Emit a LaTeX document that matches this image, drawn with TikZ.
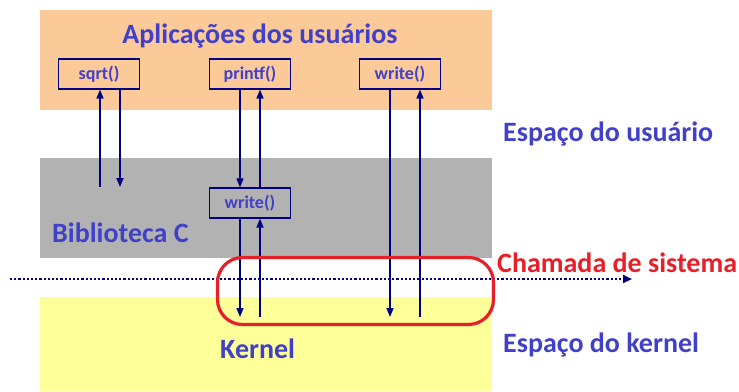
\documentclass[tikz,border=0pt]{standalone}
\usepackage{fontspec}
\setmainfont{Carlito}
\usetikzlibrary{arrows.meta}

\definecolor{laranja}{RGB}{252,201,152}
\definecolor{cinza}{RGB}{178,178,178}
\definecolor{amarelo}{RGB}{255,255,153}
\definecolor{marinho}{RGB}{0,0,128}
\definecolor{azultexto}{RGB}{64,64,200}
\definecolor{vermelho}{RGB}{232,30,40}

\tikzset{
	funcao/.style={draw=marinho, line width=1.2pt, fill=none, text=azultexto, font=\bfseries\fontsize{18}{20}\selectfont, minimum width=81pt, minimum height=30pt, inner sep=0pt},
	seta/.style={draw=marinho, line width=1.5pt, -{Triangle[width=7pt,length=9pt]}},
	rotulo/.style={text=azultexto, font=\bfseries\fontsize{28}{32}\selectfont, inner sep=0pt, anchor=base west}
}

\begin{document}
\begin{tikzpicture}[x=1pt,y=-1pt]
		\useasboundingbox (0,0) rectangle (739,391);
		% faixas
		\fill[laranja] (40,10) rectangle (492,110);
		\fill[cinza] (40,158) rectangle (492,258);
		\fill[amarelo] (40,297) rectangle (492,391);
		% funcoes
		\node[funcao] (sqrt) at (99,74) {sqrt()};
		\node[funcao] (printf) at (250,74) {printf()};
		\node[funcao] (write) at (400,74) {write()};
		\node[funcao] (writeC) at (250,203) {write()};
		% pontas soltas
		\coordinate (sqrtSobe) at (100,187);
		\coordinate (sqrtDesce) at (120,187);
		\coordinate (kDesceA) at (240,317);
		\coordinate (kSobeA) at (260,317);
		\coordinate (kDesceB) at (390,317);
		\coordinate (kSobeB) at (420,317);
		\coordinate (limiteE) at (10,279);
		\coordinate (limiteD) at (632,279);
		% setas
		\draw[seta] (sqrtSobe) -- (sqrtSobe |- sqrt.south);
		\draw[seta] (sqrtDesce |- sqrt.south) -- (sqrtDesce);
		\draw[seta] (kDesceA |- printf.south) -- (kDesceA |- writeC.north);
		\draw[seta] (kSobeA |- writeC.north) -- (kSobeA |- printf.south);
		\draw[seta] (kDesceA |- writeC.south) -- (kDesceA);
		\draw[seta] (kSobeA) -- (kSobeA |- writeC.south);
		\draw[seta] (kDesceB |- write.south) -- (kDesceB);
		\draw[seta] (kSobeB) -- (kSobeB |- write.south);
		% fronteira usuario/kernel
		\draw[draw=marinho, line width=2.2pt, dash pattern=on 2.2pt off 2pt, -{Triangle[width=8pt,length=9pt]}] (limiteE) -- (limiteD);
		\node[draw=vermelho, line width=3.2pt, rounded corners=25pt, minimum width=276pt, minimum height=67pt, inner sep=0pt] (chamada) at (355.5,291) {};
		% textos
		\node[rotulo, anchor=base] (aplic) at (260,43) {Aplicações dos usuários};
		\node[rotulo] (usuario) at (503,141) {Espaço do usuário};
		\node[rotulo] (biblio) at (52,242) {Biblioteca C};
		\node[rotulo, text=vermelho] (sistema) at (497,272) {Chamada de sistema};
		\node[rotulo] (kernel) at (220,358) {Kernel};
		\node[rotulo] (ekernel) at (503,352) {Espaço do kernel};
	\end{tikzpicture}
\end{document}
